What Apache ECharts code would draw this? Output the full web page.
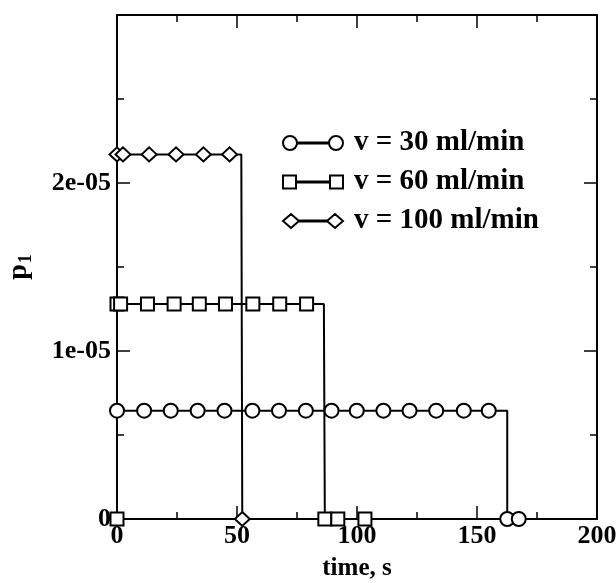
<!DOCTYPE html>
<html>
<head>
<meta charset="utf-8">
<script src="https://cdn.jsdelivr.net/npm/echarts@6/dist/echarts.min.js"></script>
<style>
html,body{margin:0;padding:0;background:#fff;}
#chart{width:616px;height:583px;}
</style>
</head>
<body>
<div id="chart"></div>
<script>
// ---- data ----
const seriesNames = ['v = 30 ml/min', 'v = 60 ml/min', 'v = 100 ml/min'];

// circles (30 ml/min)
const c30Level = 6.45e-6;
const c30X = [0, 11.3, 22.4, 33.6, 44.8, 56.4, 67.5, 78.7, 89.4, 99.9, 111, 121.9, 133, 144.5, 154.9];
const c30Drop = 162.6;
const c30Tail = [162.6, 167.4];

// squares (60 ml/min)
const s60Level = 1.28e-5;
const s60X = [0, 1.5, 12.7, 23.8, 34.3, 45.2, 56.6, 67.8, 79];
const s60Drop = 86.2;
const s60Tail = [86.6, 92, 103.3];
const s60Start = [0];

// diamonds (100 ml/min)
const d100Level = 2.17e-5;
const d100X = [0, 2.5, 13.4, 24.6, 36, 46.9];
const d100Drop = 51.8;
const d100Tail = [52.2];

const xTicks = [0, 50, 100, 150, 200];
const yTickLabels = {0: '0', 1: '1e-05', 2: '2e-05'};

function buildSeries(startZeros, xs, level, drop, tail) {
  const d = [];
  startZeros.forEach(x => d.push([x, 0]));
  xs.forEach(x => d.push([x, level]));
  d.push({value: [drop, level], symbol: 'none'});
  tail.forEach(x => d.push([x, 0]));
  return d;
}

const FONT = 'Liberation Serif';
const chart = echarts.init(document.getElementById('chart'), null, {renderer: 'canvas'});

const axisCommon = {
  axisLine: {show: true, onZero: false, lineStyle: {color: '#000', width: 2}},
  axisTick: {show: true, inside: true, length: 13, lineStyle: {color: '#000', width: 1.5}},
  minorTick: {show: true, splitNumber: 2, length: 7, lineStyle: {color: '#000', width: 1.5}},
  splitLine: {show: false}
};

const iconCircle = 'path://M0,7A7,7,0,1,1,14,7A7,7,0,1,1,0,7Z M14,6.6H46V7.4H14Z M46,7A7,7,0,1,1,60,7A7,7,0,1,1,46,7Z';
const iconSquare = 'path://M0,0.5H13V13.5H0Z M13,6.6H47V7.4H13Z M47,0.5H60V13.5H47Z';
const iconDiamond = 'path://M0,7L8,0L16,7L8,14Z M16,6.6H44V7.4H16Z M44,7L52,0L60,7L52,14Z';

const option = {
  animation: false,
  backgroundColor: '#fff',
  grid: {left: 117, right: 19, top: 15, bottom: 64, outerBoundsMode: 'none', containLabel: false},
  legend: {
    orient: 'vertical',
    left: 277,
    top: 123,
    itemWidth: 60,
    itemHeight: 14,
    itemGap: 9,
    itemStyle: {color: '#fff', borderColor: '#000', borderWidth: 2},
    textStyle: {fontFamily: FONT, fontWeight: 'bold', fontSize: 29, color: '#000', padding: [0, 0, 0, 6], lineHeight: 30},
    data: [
      {name: seriesNames[0], icon: iconCircle},
      {name: seriesNames[1], icon: iconSquare},
      {name: seriesNames[2], icon: iconDiamond}
    ]
  },
  xAxis: [
    Object.assign({}, axisCommon, {
      type: 'value', min: 0, max: 200, interval: 50, position: 'bottom',
      name: 'time, s', nameLocation: 'middle', nameGap: 37,
      nameTextStyle: {fontFamily: FONT, fontWeight: 'bold', fontSize: 25, color: '#000'},
      axisLabel: {fontFamily: FONT, fontWeight: 'bold', fontSize: 26, color: '#000', margin: 4,
        formatter: v => xTicks.indexOf(v) >= 0 ? String(v) : ''}
    }),
    Object.assign({}, axisCommon, {
      type: 'value', min: 0, max: 200, interval: 50, position: 'top',
      axisLabel: {show: false}
    })
  ],
  yAxis: [
    Object.assign({}, axisCommon, {
      type: 'value', min: 0, max: 3e-5, interval: 1e-5, position: 'left',
      name: 'p{s|1}', nameLocation: 'middle', nameGap: 82, nameRotate: 90,
      nameTextStyle: {fontFamily: FONT, fontWeight: 'bold', fontSize: 28, color: '#000',
        rich: {s: {fontFamily: FONT, fontWeight: 'bold', fontSize: 18, color: '#000', padding: [14, 0, 0, 1]}}},
      axisLabel: {fontFamily: FONT, fontWeight: 'bold', fontSize: 26, color: '#000', margin: 6,
        formatter: v => {
          const k = Math.round(v / 1e-5);
          return yTickLabels[k] !== undefined ? yTickLabels[k] : '';
        }}
    }),
    Object.assign({}, axisCommon, {
      type: 'value', min: 0, max: 3e-5, interval: 1e-5, position: 'right',
      axisLabel: {show: false}
    })
  ],
  series: [
    {
      name: seriesNames[0], type: 'line', xAxisIndex: 0, yAxisIndex: 0,
      data: buildSeries([], c30X, c30Level, c30Drop, c30Tail),
      symbol: 'circle', symbolSize: 14, showAllSymbol: true,
      itemStyle: {color: '#fff', borderColor: '#000', borderWidth: 2},
      lineStyle: {color: '#000', width: 2}, z: 3
    },
    {
      name: seriesNames[1], type: 'line', xAxisIndex: 0, yAxisIndex: 0,
      data: buildSeries(s60Start, s60X, s60Level, s60Drop, s60Tail),
      symbol: 'rect', symbolSize: 13, showAllSymbol: true,
      itemStyle: {color: '#fff', borderColor: '#000', borderWidth: 2},
      lineStyle: {color: '#000', width: 2}, z: 3
    },
    {
      name: seriesNames[2], type: 'line', xAxisIndex: 0, yAxisIndex: 0,
      data: buildSeries([], d100X, d100Level, d100Drop, d100Tail),
      symbol: 'diamond', symbolSize: [15, 14], showAllSymbol: true,
      itemStyle: {color: '#fff', borderColor: '#000', borderWidth: 2},
      lineStyle: {color: '#000', width: 2}, z: 3
    }
  ]
};
chart.setOption(option);
</script>
</body>
</html>
